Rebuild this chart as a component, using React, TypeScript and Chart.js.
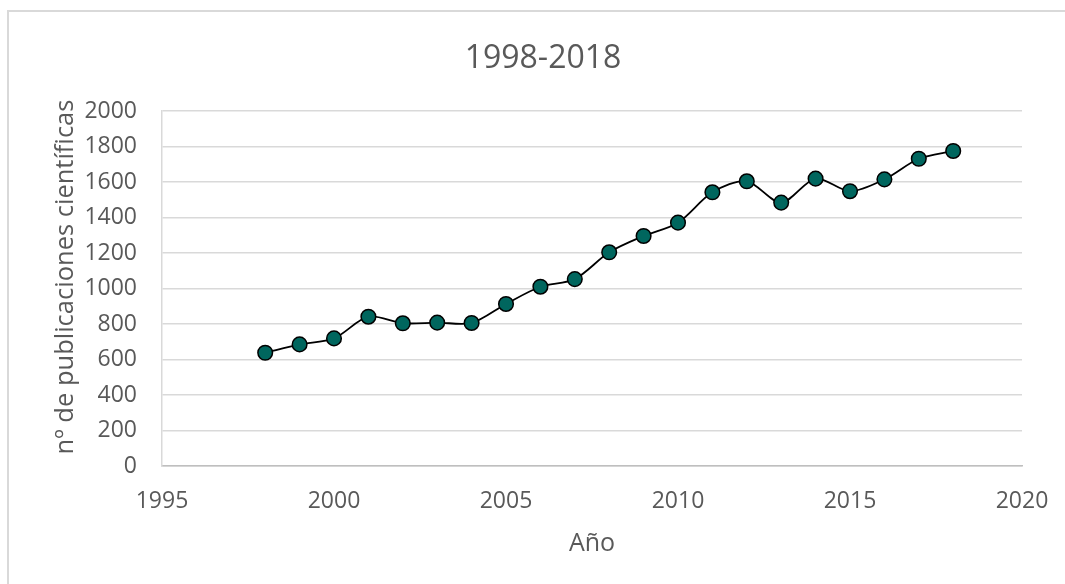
import React, { useEffect, useRef } from "react";
import { Chart, registerables } from "chart.js";

Chart.register(...registerables);

const years = [1998, 1999, 2000, 2001, 2002, 2003, 2004, 2005, 2006, 2007, 2008, 2009, 2010, 2011, 2012, 2013, 2014, 2015, 2016, 2017, 2018];
const publications = [638, 685, 719, 841, 804, 808, 806, 913, 1010, 1053, 1204, 1296, 1371, 1542, 1604, 1484, 1619, 1548, 1615, 1731, 1775];

const chartTitle = "1998-2018";
const xTitle = "Año";
const yTitle = "nº de publicaciones científicas";
const xMin = 1995;
const xMax = 2020;
const xStep = 5;
const yMin = 0;
const yMax = 2000;
const yStep = 200;

const FONT = '"Open Sans", sans-serif';
const TEXT = "#595959";
const GRID = "#d9d9d9";
const CW = 1086;
const CH = 584;

// y-axis title drawn centred on the chart frame (as in the source), not on the plot area
const yTitlePlugin = {
  id: "yTitleFrame",
  afterDraw(chart: any) {
    const ctx = chart.ctx;
    ctx.save();
    ctx.translate(66, 277);
    ctx.rotate(-Math.PI / 2);
    ctx.font = `25.5px ${FONT}`;
    ctx.fillStyle = TEXT;
    ctx.textAlign = "center";
    ctx.textBaseline = "middle";
    ctx.fillText(yTitle, 0, 0);
    ctx.restore();
  },
};

export default function App() {
  const ref = useRef<HTMLCanvasElement | null>(null);

  useEffect(() => {
    let chart: Chart | null = null;
    let cancelled = false;
    const make = () => {
      if (cancelled || !ref.current) return;
      chart = new Chart(ref.current, {
        type: "line",
        data: {
          datasets: [
            {
              data: years.map((y, i) => ({ x: y, y: publications[i] })),
              borderColor: "#000000",
              borderWidth: 1.8,
              backgroundColor: "#00665E",
              pointBackgroundColor: "#00665E",
              pointBorderColor: "#000000",
              pointBorderWidth: 1.5,
              pointRadius: 7.3,
              tension: 0.3,
              fill: false,
            },
          ],
        },
        plugins: [yTitlePlugin],
        options: {
          responsive: false,
          animation: false,
          layout: { padding: { left: 0, right: 0, top: 0, bottom: 0 } },
          plugins: {
            legend: { display: false },
            tooltip: { enabled: false },
            title: {
              display: true,
              text: chartTitle,
              color: TEXT,
              font: { family: FONT, size: 32, weight: "normal" },
              padding: { top: 40, bottom: 32.6 },
            },
          },
          scales: {
            x: {
              type: "linear",
              min: xMin,
              max: xMax,
              afterFit: (s: any) => {
                s.height = 118;
              },
              ticks: {
                stepSize: xStep,
                color: TEXT,
                font: { family: FONT, size: 23 },
                padding: 22,
                maxRotation: 0,
                callback: (v: any) => String(v),
              },
              grid: { display: false, drawTicks: false },
              border: { display: true, color: "#bfbfbf", width: 1.5 },
              title: {
                display: true,
                text: xTitle,
                color: TEXT,
                font: { family: FONT, size: 25 },
                padding: { top: 0, bottom: 25 },
              },
            },
            y: {
              type: "linear",
              min: yMin,
              max: yMax,
              afterFit: (s: any) => {
                s.width = 162;
              },
              ticks: {
                stepSize: yStep,
                color: TEXT,
                font: { family: FONT, size: 23 },
                padding: 25,
                callback: (v: any) => String(v),
              },
              grid: { color: GRID, lineWidth: 1.5, drawTicks: false },
              border: { display: true, color: GRID, width: 1.5 },
              title: { display: false },
            },
            yRight: {
              type: "linear",
              position: "right",
              display: true,
              min: yMin,
              max: yMax,
              afterFit: (s: any) => {
                s.width = CW - 1022;
              },
              ticks: { display: false },
              grid: { display: false, drawTicks: false },
              border: { display: false },
              title: { display: false },
            },
          },
        },
      });
    };
    const fonts: any = (document as any).fonts;
    if (fonts && fonts.load) {
      Promise.all([fonts.load('23px "Open Sans"'), fonts.load('32px "Open Sans"')])
        .catch(() => null)
        .then(make);
    } else {
      make();
    }
    return () => {
      cancelled = true;
      if (chart) chart.destroy();
    };
  }, []);

  return (
    <div style={{ position: "absolute", left: 0, top: 0, width: 1065, height: 584, overflow: "hidden", background: "#ffffff" }}>
      <div
        style={{
          position: "absolute",
          left: 7,
          top: 10,
          width: 1200,
          height: 800,
          border: "2px solid #d9d9d9",
          boxSizing: "border-box",
        }}
      />
      <canvas ref={ref} width={CW} height={CH} style={{ position: "absolute", left: 0, top: 0, width: CW, height: CH }} />
    </div>
  );
}
